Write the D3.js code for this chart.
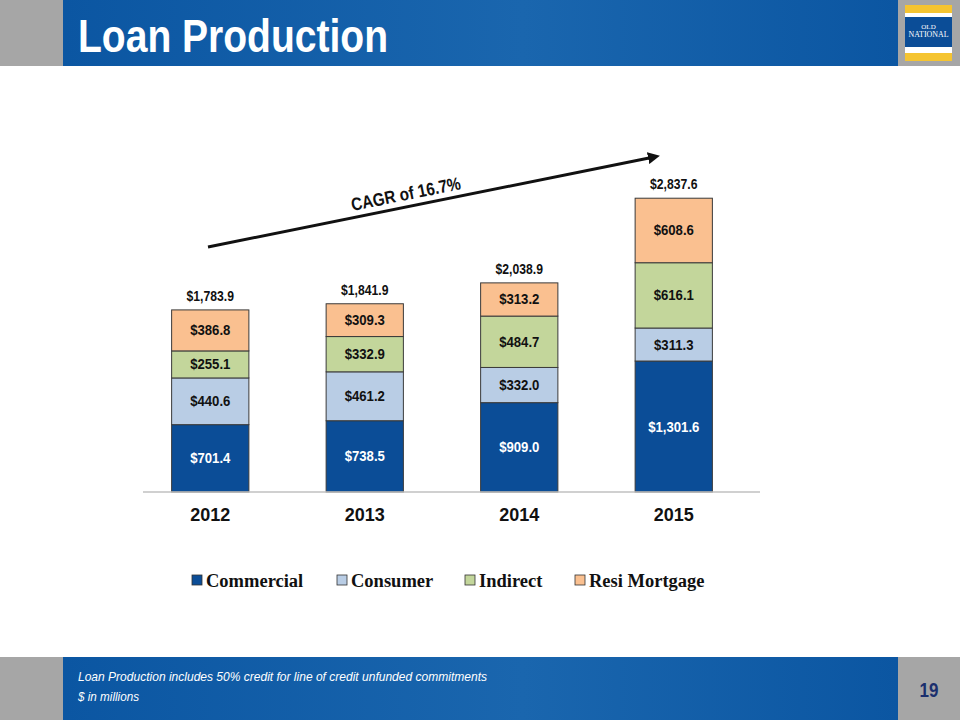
<!DOCTYPE html>
<html><head><meta charset="utf-8">
<script src="https://cdn.jsdelivr.net/npm/d3@7"></script>
<style>body{margin:0;background:#fff}svg{display:block}</style>
</head><body>
<svg id="c" width="960" height="720"></svg>
<script>
const years = ["2012","2013","2014","2015"];
const seriesNames = ["Commercial","Consumer","Indirect","Resi Mortgage"];
const commercial = [701.4, 738.5, 909.0, 1301.6];
const consumer = [440.6, 461.2, 332.0, 311.3];
const indirect = [255.1, 332.9, 484.7, 616.1];
const resiMortgage = [386.8, 309.3, 313.2, 608.6];
const totals = [1783.9, 1841.9, 2038.9, 2837.6];
const colors = ["#0B4D97","#B9CDE5","#C3D69B","#FAC090"];
const labelColors = ["#fff","#111","#111","#111"];

const svg = d3.select("#c");
const fmt = d3.format(",.1f");
const sans = "'Liberation Sans',Arial,sans-serif";

// header
svg.append("rect").attr("x",0).attr("y",0).attr("width",960).attr("height",66).attr("fill","#A6A6A6");
const defs = svg.append("defs");
const grad = defs.append("linearGradient").attr("id","hg");
grad.append("stop").attr("offset","0").attr("stop-color","#0B56A2");
grad.append("stop").attr("offset","0.55").attr("stop-color","#1A66AE");
grad.append("stop").attr("offset","1").attr("stop-color","#0B56A2");
svg.append("rect").attr("x",63).attr("y",0).attr("width",835).attr("height",66).attr("fill","url(#hg)");
svg.append("text").attr("x",78).attr("y",52).text("Loan Production")
  .attr("fill","#fff").attr("font-family","'Liberation Sans Narrow','Arial Narrow','Liberation Sans',Arial,sans-serif")
  .attr("font-weight","bold").attr("font-size",46).attr("textLength",310).attr("lengthAdjust","spacingAndGlyphs");
// logo
svg.append("rect").attr("x",905).attr("y",5).attr("width",47).attr("height",56).attr("fill","#F5C431");
svg.append("rect").attr("x",905).attr("y",13).attr("width",47).attr("height",40).attr("fill","#fff");
svg.append("rect").attr("x",905).attr("y",17).attr("width",47).attr("height",30).attr("fill","#0B4D97");
svg.append("text").attr("x",928.5).attr("y",29).attr("text-anchor","middle").attr("fill","#fff")
  .attr("font-family","'Liberation Serif',serif").attr("font-size",7).text("OLD");
svg.append("text").attr("x",928.5).attr("y",37).attr("text-anchor","middle").attr("fill","#fff")
  .attr("font-family","'Liberation Serif',serif").attr("font-size",7.5).attr("textLength",40).attr("lengthAdjust","spacingAndGlyphs").text("NATIONAL");

// footer
svg.append("rect").attr("x",0).attr("y",657).attr("width",960).attr("height",63).attr("fill","#A6A6A6");
svg.append("rect").attr("x",63).attr("y",657).attr("width",835).attr("height",63).attr("fill","url(#hg)");
svg.append("text").attr("x",78).attr("y",681).attr("fill","#fff").attr("font-style","italic")
  .attr("font-family",sans).attr("font-size",13)
  .attr("textLength",409).attr("lengthAdjust","spacingAndGlyphs")
  .text("Loan Production includes 50% credit for line of credit unfunded commitments");
svg.append("text").attr("x",78).attr("y",701).attr("fill","#fff").attr("font-style","italic")
  .attr("font-family",sans).attr("font-size",13).attr("textLength",61).attr("lengthAdjust","spacingAndGlyphs")
  .text("$ in millions");
svg.append("text").attr("x",929).attr("y",697).attr("text-anchor","middle").attr("fill","#1B2F6E")
  .attr("font-family",sans).attr("font-weight","bold").attr("font-size",20)
  .attr("transform","translate(929,0) scale(0.85,1) translate(-929,0)").text("19");

// chart
const baseline = 492;
const x = d3.scaleBand().domain(years).range([133, 751]).paddingInner(0.5).paddingOuter(0.25);
const y = d3.scaleLinear().domain([0, 3000]).range([499, 181]);
const rows = years.map((yr,i)=>({year:yr, Commercial:commercial[i], Consumer:consumer[i], Indirect:indirect[i], "Resi Mortgage":resiMortgage[i]}));
const stack = d3.stack().keys(seriesNames)(rows);

const g = svg.append("g");
function label(px, py, txt, fill, size, sx){
  g.append("text").attr("transform",`translate(${px},${py}) scale(${sx},1)`)
    .attr("text-anchor","middle").attr("fill",fill)
    .attr("font-family",sans).attr("font-weight","bold").attr("font-size",size).text(txt);
}
stack.forEach((layer, si)=>{
  layer.forEach((d, i)=>{
    const y0 = Math.min(y(d[0]), baseline), y1 = y(d[1]);
    g.append("rect").attr("x", x(years[i])).attr("width", x.bandwidth())
      .attr("y", y1).attr("height", y0 - y1)
      .attr("fill", colors[si]).attr("stroke","#3a3a3a").attr("stroke-width",1);
    label(x(years[i]) + x.bandwidth()/2, (y0+y1)/2 + 5, "$" + fmt(d[1]-d[0]), labelColors[si], 14, 0.94);
  });
});
// totals
years.forEach((yr,i)=>{
  label(x(yr)+x.bandwidth()/2, y(totals[i]) - 9, "$" + fmt(totals[i]), "#111", 14, 0.87);
});
// axis
const xAxis = g.append("g").attr("transform",`translate(0,${baseline})`).call(d3.axisBottom(x).tickSize(0).tickPadding(16));
xAxis.select(".domain").attr("stroke","#C0C0C0").attr("stroke-width",1.5).attr("d","M143,0H760");
xAxis.selectAll("text").attr("font-family",sans).attr("font-weight","bold").attr("font-size",18).attr("fill","#111");

// CAGR arrow
defs.append("marker").attr("id","ah").attr("viewBox","0 0 10 10").attr("refX",5).attr("refY",5)
  .attr("markerWidth",4).attr("markerHeight",4).attr("orient","auto")
  .append("path").attr("d","M0,0L10,5L0,10z").attr("fill","#111");
svg.append("line").attr("x1",208).attr("y1",247).attr("x2",654).attr("y2",157)
  .attr("stroke","#111").attr("stroke-width",3).attr("marker-end","url(#ah)");
const ang = Math.atan2(157-247, 654-208) * 180/Math.PI;
svg.append("text").attr("transform",`translate(407,200) rotate(${ang}) scale(0.85,1)`).attr("text-anchor","middle")
  .attr("font-family",sans).attr("font-weight","bold").attr("font-size",18).attr("fill","#111")
  .text("CAGR of 16.7%");

// legend
const legX = [192, 337, 465, 575];
seriesNames.forEach((n,i)=>{
  svg.append("rect").attr("x",legX[i]).attr("y",575).attr("width",10).attr("height",10)
    .attr("fill",colors[i]).attr("stroke","#333").attr("stroke-width",0.8);
  svg.append("text").attr("x",legX[i]+14).attr("y",587).attr("fill","#111")
    .attr("font-family","'Liberation Serif','Times New Roman',serif").attr("font-weight","bold").attr("font-size",18.5).text(n);
});
</script>
</body></html>
